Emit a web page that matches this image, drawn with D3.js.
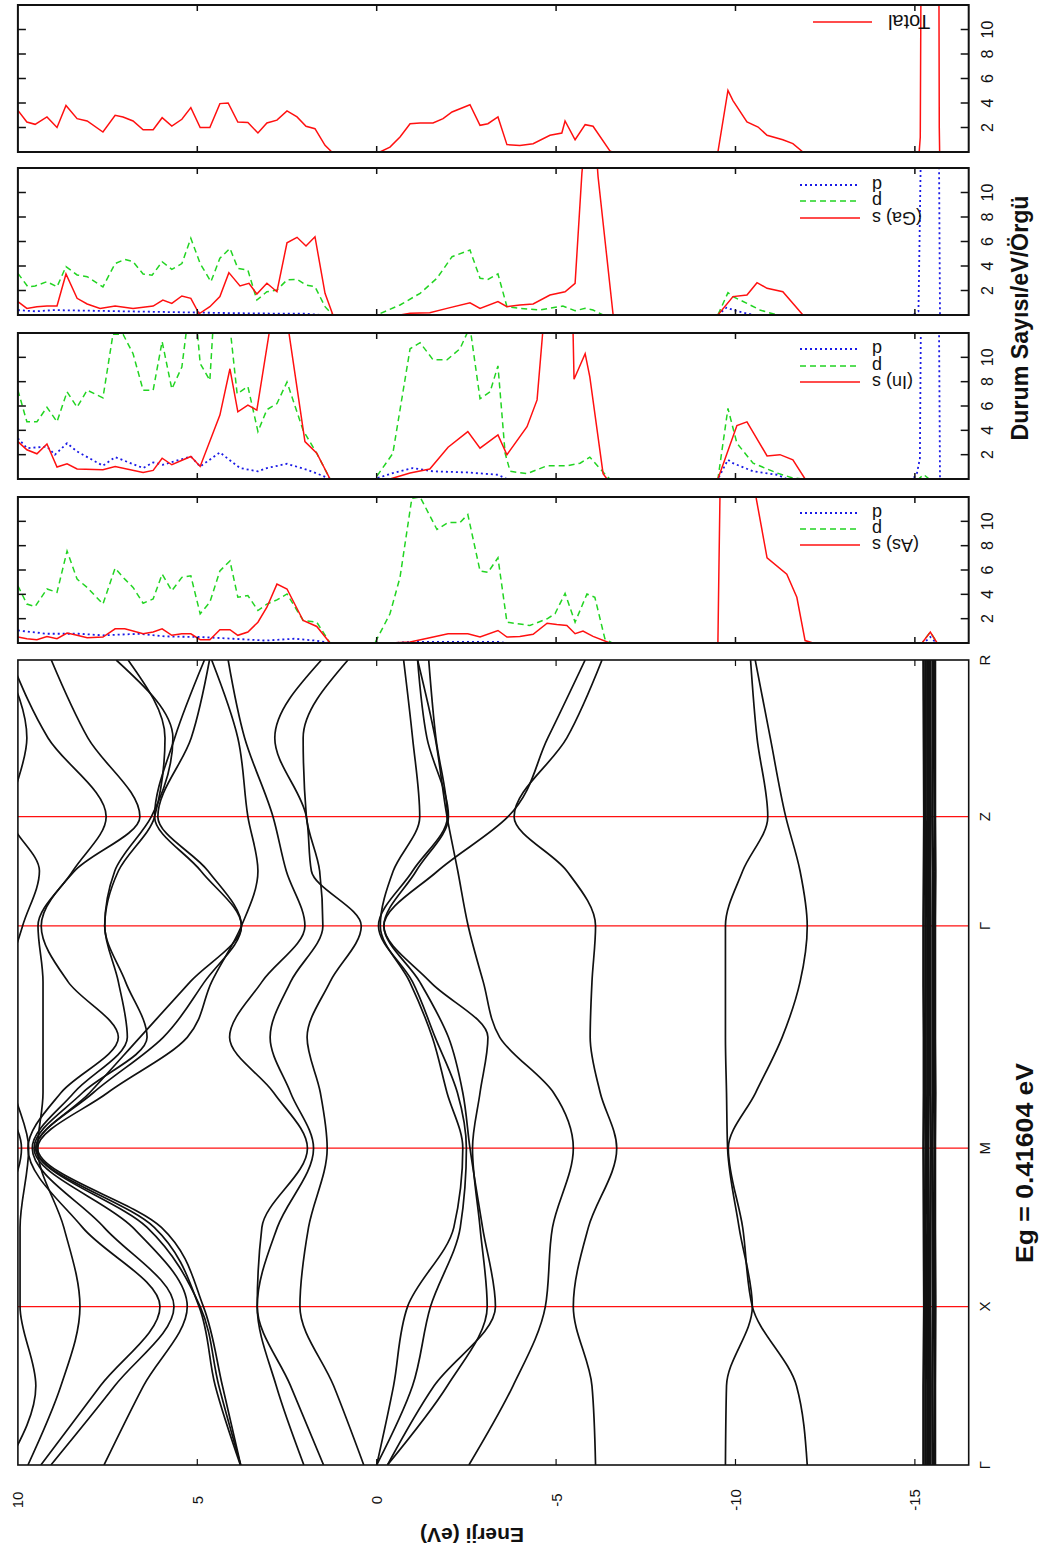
<!DOCTYPE html>
<html><head><meta charset="utf-8">
<script src="https://cdn.jsdelivr.net/npm/d3@7"></script>
<style>body{margin:0;background:#fff}svg text{font-family:"Liberation Sans",Arial,sans-serif}</style>
</head><body><svg id="c" width="1045" height="1552"></svg>
<script>
// ---------- DATA ----------
const kLabels = ["Γ","X","M","Γ","Z","R"];
const kTicks = [0, 1, 2, 3.403, 4.093, 5.082];
const kGrid = [0, 0.5, 1, 1.5, 2, 2.35, 2.7, 3.05, 3.403, 3.75, 4.093, 4.59, 5.082];
const energyTicks = [10, 5, 0, -5, -10, -15];
const dosTicks = [2, 4, 6, 8, 10];
const gapText = "Eg = 0.41604 eV";

// conduction bands (eV at kGrid)
const bandC1 = [0.36, 1.2, 2.14, 1.9, 1.38, 1.57, 1.94, 1.3, 0.43, 1.82, 1.96, 2.84, 1.54];
const bandC2 = [1.48, 2.4, 3.33, 2.77, 1.76, 2.4, 2.97, 2.4, 1.5, 1.59, 1.96, 2.05, 0.8];
const bandC3 = [2.03, 2.8, 3.33, 3.2, 1.93, 2.87, 4.1, 3.2, 2.0, 2.52, 2.89, 3.68, 4.14];
const bandC4 = [3.79, 4.3, 4.83, 6.0, 9.45, 7.5, 5.28, 4.6, 3.77, 3.31, 3.59, 3.87, 4.6];
const bandC5 = [3.79, 4.4, 4.92, 6.4, 9.5, 7.9, 5.95, 4.8, 3.77, 4.7, 6.1, 5.17, 4.66];
const bandC6 = [7.6, 6.5, 5.28, 6.8, 9.55, 8.2, 6.4, 7.0, 7.58, 7.2, 6.19, 5.9, 6.93];
const bandC7 = [9.08, 7.3, 5.65, 7.6, 9.6, 8.44, 6.95, 7.2, 7.58, 7.3, 6.28, 5.68, 7.26];
const bandC8 = [9.36, 7.7, 6.04, 8.2, 9.72, 8.8, 7.2, 8.6, 9.35, 8.42, 6.6, 8.05, 9.07];
const bandC9 = [9.72, 8.8, 8.27, 8.72, 9.45, 9.3, 9.3, 9.3, 9.44, 8.47, 7.54, 9.16, 10.2];
const bandC10 = [10.3, 9.5, 9.94, 9.94, 9.7, 10.1, 10.4, 10.3, 9.87, 9.4, 10.2, 9.75, 10.4];
const bandC11 = [10.8, 10.3, 10.6, 10.5, 9.9, 10.5, 11, 11, 11, 10.6, 10.8, 10.5, 10.9];
const bandC12 = [3.8, 4.5, 4.95, 6.2, 9.5, 8.0, 6.6, 5.2, 3.77, 4.9, 6.19, 5.63, 4.8];
// valence bands
const bandV1 = [-6.1, -6.0, -5.48, -5.9, -6.69, -6.23, -5.95, -6.0, -6.1, -5.3, -3.83, -5.3, -6.28];
const bandV2 = [-2.57, -3.8, -4.7, -4.9, -5.48, -4.93, -3.43, -2.97, -2.55, -2.26, -1.96, -1.63, -1.14];
const bandV3 = [0.0, -0.47, -0.86, -2.15, -2.4, -1.96, -1.55, -0.92, -0.1, -0.46, -1.2, -1.0, -0.75];
const bandV4 = [-0.3, -1.97, -3.08, -2.88, -2.67, -2.88, -3.1, -1.49, -0.2, -1.7, -3.66, -4.77, -5.81];
const bandV5 = [0.0, -1.0, -1.5, -2.33, -2.5, -2.25, -1.63, -1.0, -0.05, -1.0, -1.97, -1.65, -1.45];
const bandV6 = [-0.3, -1.6, -3.31, -2.95, -2.6, -2.4, -2.0, -1.2, -0.2, -1.1, -2.0, -1.4, -1.14];
// low-lying s bands
const bandL1 = [-9.72, -9.75, -10.47, -10.1, -9.78, -9.75, -9.72, -9.72, -9.72, -10.2, -10.9, -10.6, -10.42];
const bandL2 = [-12.0, -11.7, -10.47, -10.2, -9.8, -10.56, -11.3, -11.8, -12.0, -11.8, -11.4, -10.97, -10.55];
// semicore d bands
const bandS1 = [-15.24, -15.24, -15.26, -15.25, -15.24, -15.25, -15.25, -15.24, -15.24, -15.25, -15.26, -15.25, -15.24];
const bandS2 = [-15.30, -15.30, -15.31, -15.30, -15.31, -15.30, -15.30, -15.30, -15.30, -15.31, -15.30, -15.30, -15.30];
const bandS3 = [-15.36, -15.37, -15.36, -15.37, -15.36, -15.36, -15.37, -15.36, -15.36, -15.36, -15.37, -15.36, -15.36];
const bandS4 = [-15.43, -15.43, -15.42, -15.43, -15.44, -15.43, -15.43, -15.43, -15.43, -15.42, -15.43, -15.43, -15.43];
const bandS5 = [-15.50, -15.49, -15.50, -15.50, -15.49, -15.50, -15.50, -15.50, -15.50, -15.50, -15.49, -15.50, -15.50];
const bandS6 = [-15.56, -15.56, -15.57, -15.56, -15.56, -15.57, -15.56, -15.56, -15.56, -15.57, -15.56, -15.56, -15.56];

// DOS curves: [energy eV, states/eV/cell]
const dosTotal = [[10.0,3.4],[9.75,2.45],[9.52,2.26],[9.19,2.86],[8.91,2.0],[8.66,3.8],[8.35,2.72],[8.07,2.53],[7.63,1.63],[7.29,3.0],[7.07,2.86],[6.79,2.53],[6.51,1.82],[6.23,1.82],[5.98,2.8],[5.71,2.12],[5.43,2.67],[5.18,3.62],[4.92,2.0],[4.65,2.0],[4.37,3.95],[4.14,4.0],[3.87,2.45],[3.59,2.4],[3.31,1.55],[3.06,2.37],[2.78,2.6],[2.50,3.35],[2.22,2.86],[1.97,2.1],[1.72,1.9],[1.44,0.54],[1.25,0],[-0.09,0],[-0.37,0.4],[-0.65,1.22],[-0.93,2.3],[-1.21,2.37],[-1.57,2.37],[-1.85,2.72],[-2.10,3.27],[-2.60,3.86],[-2.88,2.18],[-3.10,2.31],[-3.38,2.86],[-3.63,0.6],[-3.99,0.54],[-4.36,0.68],[-4.83,1.36],[-5.16,1.55],[-5.25,2.53],[-5.53,1.0],[-5.81,2.23],[-6.03,2.1],[-6.50,0.08],[-6.56,0],[-9.51,0],[-9.79,5.03],[-9.93,4.2],[-10.32,2.45],[-10.63,2.04],[-10.88,1.36],[-11.32,1.0],[-11.60,0.68],[-11.88,0],[-15.12,0],[-15.15,1.2],[-15.17,14],[-15.67,14],[-15.68,2.0],[-15.69,0],[-16.5,0]];

const dosGaS = [[10.0,1.09],[9.75,0.54],[9.47,0.68],[9.19,0.73],[8.91,0.73],[8.66,3.35],[8.35,1.36],[8.07,0.9],[7.71,0.54],[7.29,0.73],[6.79,0.54],[6.23,0.73],[5.96,1.22],[5.71,0.95],[5.43,1.55],[5.18,1.36],[4.95,0.1],[4.65,0.68],[4.37,1.5],[4.12,3.46],[3.81,2.37],[3.56,2.59],[3.34,1.71],[3.06,2.59],[2.78,1.9],[2.50,5.9],[2.22,6.34],[1.97,5.63],[1.72,6.39],[1.44,1.77],[1.22,0],[-0.65,0],[-0.93,0.14],[-1.48,0.19],[-1.96,0.54],[-2.60,1.0],[-2.88,0.54],[-3.38,1.09],[-3.63,0.68],[-3.99,0.82],[-4.36,0.9],[-4.83,1.63],[-5.25,1.9],[-5.53,2.59],[-5.72,11.6],[-5.75,12.5],[-6.14,12.5],[-6.17,11.3],[-6.59,0],[-9.51,0],[-9.93,1.5],[-10.32,1.63],[-10.60,2.64],[-10.88,2.18],[-11.32,1.9],[-11.88,0],[-16.5,0]];
const dosGaP = [[10.0,3.4],[9.72,2.3],[9.52,2.37],[9.19,2.72],[8.91,2.3],[8.66,3.95],[8.35,3.27],[8.07,3.13],[7.63,2.3],[7.29,4.2],[7.02,4.54],[6.79,4.35],[6.51,3.35],[6.26,3.24],[5.98,4.35],[5.71,3.73],[5.43,4.2],[5.18,6.26],[4.92,4.2],[4.62,2.72],[4.37,4.63],[4.09,5.44],[3.87,3.81],[3.59,3.67],[3.34,1.22],[3.06,1.9],[2.78,2.04],[2.50,2.86],[2.22,2.91],[1.97,2.45],[1.72,2.31],[1.44,0.68],[1.22,0],[0.0,0],[-0.65,0.82],[-1.21,1.77],[-1.68,3.0],[-2.10,4.76],[-2.60,5.3],[-2.88,3.0],[-3.10,2.91],[-3.38,3.35],[-3.63,0.68],[-3.99,0.54],[-4.55,0.41],[-5.19,0.73],[-5.53,0.35],[-5.81,0.54],[-6.03,0.41],[-6.31,0],[-9.51,0],[-9.79,1.82],[-9.93,1.5],[-10.32,0.95],[-10.68,0.41],[-11.16,0],[-16.5,0]];
const dosGaD = [[10.0,0.4],[9.5,0.3],[9.0,0.4],[8.0,0.35],[7.0,0.3],[6.0,0.25],[5.0,0.2],[4.0,0.15],[3.0,0.12],[2.0,0.1],[1.5,0],[-9.51,0],[-9.75,0.6],[-10.0,0.35],[-10.5,0],[-14.95,0],[-15.1,0.3],[-15.17,14],[-15.67,14],[-15.7,0],[-16.5,0]];

const dosInS = [[10.0,3.07],[9.75,2.4],[9.47,2.07],[9.19,2.88],[8.91,0.98],[8.63,1.25],[8.35,0.82],[7.63,0.76],[7.29,1.03],[6.51,0.54],[6.23,0.71],[5.98,1.71],[5.71,1.17],[5.18,1.85],[4.92,1.03],[4.37,5.25],[4.09,9.06],[3.87,5.52],[3.59,6.07],[3.34,5.66],[2.97,12.5],[2.47,12.5],[2.0,3.07],[1.67,2.12],[1.30,0],[-0.37,0],[-0.93,0.49],[-1.48,0.82],[-1.99,2.61],[-2.54,3.9],[-2.88,2.53],[-3.38,3.62],[-3.63,1.99],[-4.19,4.3],[-4.47,6.5],[-4.64,12.5],[-5.47,12.5],[-5.50,8.2],[-5.81,10.3],[-5.94,8.4],[-6.31,0.44],[-6.42,0],[-9.51,0],[-10.04,4.4],[-10.32,4.7],[-10.88,1.9],[-11.24,2.0],[-11.60,1.58],[-11.94,0],[-16.5,0]];
const dosInP = [[10.0,7.3],[9.75,4.7],[9.47,4.7],[9.19,5.9],[8.91,4.7],[8.63,7.16],[8.35,5.9],[8.07,7.3],[7.63,6.67],[7.35,11.9],[7.07,11.9],[6.79,10.3],[6.51,7.3],[6.23,7.3],[5.98,11.3],[5.71,7.4],[5.43,9.2],[5.29,12.5],[5.01,12.5],[4.92,9.5],[4.65,8.1],[4.56,12.5],[4.09,12.5],[3.89,7.0],[3.59,7.6],[3.31,3.9],[3.06,5.7],[2.78,6.2],[2.50,7.97],[2.05,4.0],[1.67,2.1],[1.30,0],[0.05,0],[-0.45,2.1],[-0.93,10.7],[-1.21,11.2],[-1.57,9.8],[-1.96,9.8],[-2.32,10.7],[-2.60,12.5],[-2.88,6.6],[-3.16,7.16],[-3.38,9.3],[-3.58,2.1],[-3.72,0.63],[-4.19,0.44],[-4.75,1.09],[-5.30,1.09],[-5.67,1.3],[-5.94,1.8],[-6.17,1.03],[-6.42,0.22],[-6.50,0],[-9.51,0],[-9.79,5.8],[-10.04,2.94],[-10.49,1.3],[-11.16,0.49],[-11.60,0.08],[-11.9,0],[-15.1,0],[-15.25,0.35],[-15.4,0],[-16.5,0]];
const dosInD = [[10.0,3.35],[9.75,2.53],[9.19,2.67],[8.97,1.99],[8.63,2.94],[8.35,2.26],[7.63,1.09],[7.29,1.8],[6.51,0.9],[6.23,1.36],[5.96,1.17],[5.18,1.85],[4.92,1.03],[4.37,2.18],[3.81,0.9],[3.31,0.63],[3.06,0.9],[2.50,1.25],[1.94,0.76],[1.58,0.35],[1.30,0],[0.05,0],[-0.45,0.49],[-1.01,0.9],[-1.57,0.63],[-2.52,0.54],[-3.38,0.35],[-3.63,0],[-9.51,0],[-9.79,1.58],[-9.93,1.3],[-10.49,0.63],[-11.16,0.35],[-11.43,0],[-14.95,0],[-15.06,0.5],[-15.14,1.7],[-15.17,14],[-15.67,14],[-15.7,0],[-16.5,0]];

const dosAsS = [[10.0,0.49],[9.75,0.35],[9.47,0.27],[9.19,0.54],[8.91,0.35],[8.63,0.82],[8.35,0.63],[8.07,0.44],[7.63,0.49],[7.29,1.17],[7.02,1.17],[6.51,0.76],[6.23,0.9],[5.98,1.17],[5.71,0.63],[5.43,0.76],[5.18,0.76],[4.92,0.27],[4.65,0.27],[4.37,1.09],[4.09,1.09],[3.87,0.63],[3.59,0.9],[3.31,1.71],[3.06,2.94],[2.78,4.84],[2.50,4.44],[2.05,1.85],[1.67,1.36],[1.30,0],[-0.37,0],[-0.93,0.08],[-1.48,0.44],[-1.99,0.76],[-2.54,0.76],[-2.88,0.49],[-3.38,1.03],[-3.63,0.49],[-3.99,0.54],[-4.36,0.71],[-4.75,1.63],[-5.02,1.52],[-5.30,1.44],[-5.53,0.76],[-5.75,0.98],[-6.03,0.54],[-6.50,0],[-9.51,0],[-9.54,6.48],[-9.57,12.5],[-10.54,12.5],[-10.88,7.0],[-11.43,5.66],[-11.71,3.76],[-11.94,0.2],[-12.16,0],[-15.2,0],[-15.43,0.9],[-15.62,0],[-16.5,0]];
const dosAsP = [[10.0,4.7],[9.75,3.2],[9.52,3.0],[9.19,4.44],[8.91,4.16],[8.63,7.56],[8.35,5.25],[8.07,4.57],[7.63,3.2],[7.29,6.15],[7.02,5.25],[6.79,4.57],[6.51,3.27],[6.23,3.62],[5.98,5.66],[5.71,4.3],[5.43,5.39],[5.18,5.52],[4.92,2.4],[4.65,3.35],[4.37,5.93],[4.09,6.75],[3.87,3.76],[3.59,3.9],[3.31,2.67],[3.06,3.2],[2.78,3.54],[2.50,4.03],[2.05,1.85],[1.67,1.71],[1.30,0],[0.05,0],[-0.37,2.4],[-0.65,5.39],[-0.98,11.9],[-1.21,12.0],[-1.68,9.33],[-1.99,9.9],[-2.32,9.9],[-2.54,10.56],[-2.88,5.93],[-3.10,5.8],[-3.38,7.0],[-3.63,1.71],[-4.27,1.44],[-4.75,1.99],[-4.97,2.4],[-5.25,4.08],[-5.53,1.71],[-5.86,4.03],[-6.08,3.76],[-6.36,0.35],[-6.56,0],[-15.2,0],[-15.43,0.9],[-15.62,0],[-16.5,0]];
const dosAsD = [[10.0,1.03],[9.2,0.76],[8.3,0.76],[7.63,0.63],[6.6,0.76],[5.9,0.54],[4.9,0.49],[4.0,0.35],[3.1,0.2],[2.3,0.35],[1.7,0.2],[1.3,0],[-0.5,0],[-1.0,0.1],[-2.5,0.1],[-3.4,0.1],[-3.6,0],[-15.25,0],[-15.43,0.5],[-15.6,0],[-16.5,0]];

// ---------- DRAW ----------
const svg = d3.select("#c");
const RED = "#ff1010", GREEN = "#22d422", BLUE = "#1a1ae6";
const xE = d3.scaleLinear().domain([10, -16.5]).range([17.9, 968.7]);
const yK = d3.scaleLinear().domain([0, 5.082]).range([1465, 660]);

const defs = svg.append("defs");
function clip(id, x, y, w, h) {
  defs.append("clipPath").attr("id", id).append("rect").attr("x", x).attr("y", y).attr("width", w).attr("height", h);
}

// ---- Band structure ----
const bx0 = xE(10), bx1 = xE(-16.5), by0 = yK(5.082), by1 = yK(0);
clip("bandclip", bx0, by0, bx1 - bx0, by1 - by0);
const bandG = svg.append("g").attr("clip-path", "url(#bandclip)");

bandG.selectAll("line.sym").data(kTicks.slice(1, 5)).join("line")
  .attr("x1", bx0).attr("x2", bx1).attr("y1", d => yK(d)).attr("y2", d => yK(d))
  .attr("stroke", RED).attr("stroke-width", 1.3);

const mainBands = [bandC1, bandC2, bandC3, bandC4, bandC5, bandC6, bandC7, bandC8, bandC9, bandC10, bandC11, bandC12,
  bandV1, bandV2, bandV3, bandV4, bandV5, bandV6, bandL1, bandL2];
const coreBands = [bandS1, bandS2, bandS3, bandS4, bandS5, bandS6];
const bandLine = d3.line().x(d => xE(d[1])).y(d => yK(d[0])).curve(d3.curveMonotoneY);
bandG.selectAll("path.band").data(mainBands).join("path")
  .attr("d", b => bandLine(b.map((e, i) => [kGrid[i], e])))
  .attr("fill", "none").attr("stroke", "#111").attr("stroke-width", 1.7);
bandG.selectAll("path.core").data(coreBands).join("path")
  .attr("d", b => bandLine(b.map((e, i) => [kGrid[i], e])))
  .attr("fill", "none").attr("stroke", "#111").attr("stroke-width", 2.6);

svg.append("rect").attr("x", bx0).attr("y", by0).attr("width", bx1 - bx0).attr("height", by1 - by0)
  .attr("fill", "none").attr("stroke", "#111").attr("stroke-width", 1.6);
energyTicks.slice(1).forEach(v => {
  svg.append("line").attr("x1", xE(v)).attr("x2", xE(v)).attr("y1", by0).attr("y2", by0 + 6).attr("stroke", "#111").attr("stroke-width", 1.2);
  svg.append("line").attr("x1", xE(v)).attr("x2", xE(v)).attr("y1", by1).attr("y2", by1 - 6).attr("stroke", "#111").attr("stroke-width", 1.2);
});
energyTicks.forEach(v => {
  svg.append("text").attr("transform", `translate(${xE(v)},1500) rotate(-90)`)
    .attr("text-anchor", "middle").attr("dominant-baseline", "central")
    .attr("font-size", 15).attr("fill", "#111").text(v);
});
svg.append("text").attr("transform", `translate(472,1535) rotate(180)`)
  .attr("text-anchor", "middle").attr("dominant-baseline", "central")
  .attr("font-size", 21).attr("font-weight", "bold").attr("fill", "#111").text("Enerji (eV)");
kTicks.forEach((k, i) => {
  svg.append("text").attr("transform", `translate(984,${yK(k)}) rotate(-90)`)
    .attr("text-anchor", "middle").attr("dominant-baseline", "central")
    .attr("font-size", 15).attr("fill", "#111").text(kLabels[i]);
});
svg.append("text").attr("transform", `translate(1024,1163) rotate(-90)`)
  .attr("text-anchor", "middle").attr("dominant-baseline", "central")
  .attr("font-size", 24).attr("font-weight", "bold").attr("fill", "#111")
  .attr("textLength", 200).attr("lengthAdjust", "spacingAndGlyphs").text(gapText);

// ---- DOS panels ----
const panels = [
  {id: "tot", top: 5, bottom: 152, curves: [{d: dosTotal, c: RED, dash: null}],
   legend: [{t: "Total", c: RED, dash: null, off: 17}], lx: [813, 872], tx: 888},
  {id: "ga", top: 168, bottom: 315,
   curves: [{d: dosGaD, c: BLUE, dash: "2,3"}, {d: dosGaP, c: GREEN, dash: "6,4"}, {d: dosGaS, c: RED, dash: null}],
   legend: [{t: "d", c: BLUE, dash: "2,3", off: 17}, {t: "p", c: GREEN, dash: "6,4", off: 33}, {t: "(Ga) s", c: RED, dash: null, off: 50}], lx: [800, 860], tx: 872},
  {id: "in", top: 333, bottom: 479,
   curves: [{d: dosInD, c: BLUE, dash: "2,3"}, {d: dosInP, c: GREEN, dash: "6,4"}, {d: dosInS, c: RED, dash: null}],
   legend: [{t: "d", c: BLUE, dash: "2,3", off: 16}, {t: "p", c: GREEN, dash: "6,4", off: 33}, {t: "(In) s", c: RED, dash: null, off: 49}], lx: [800, 860], tx: 872},
  {id: "as", top: 497, bottom: 643,
   curves: [{d: dosAsD, c: BLUE, dash: "2,3"}, {d: dosAsP, c: GREEN, dash: "6,4"}, {d: dosAsS, c: RED, dash: null}],
   legend: [{t: "d", c: BLUE, dash: "2,3", off: 16}, {t: "p", c: GREEN, dash: "6,4", off: 32}, {t: "(As) s", c: RED, dash: null, off: 48}], lx: [800, 860], tx: 872}
];

panels.forEach(p => {
  const yD = d3.scaleLinear().domain([0, 12]).range([p.bottom, p.top]);
  clip("clip_" + p.id, bx0, p.top, bx1 - bx0, p.bottom - p.top);
  const g = svg.append("g").attr("clip-path", `url(#clip_${p.id})`);
  const ln = d3.line().x(d => xE(d[0])).y(d => yD(d[1]));
  p.curves.forEach(c => {
    g.append("path").attr("d", ln(c.d)).attr("fill", "none").attr("stroke", c.c)
      .attr("stroke-width", c.dash === "2,3" ? 1.8 : 1.5).attr("stroke-dasharray", c.dash);
  });
  svg.append("rect").attr("x", bx0).attr("y", p.top).attr("width", bx1 - bx0).attr("height", p.bottom - p.top)
    .attr("fill", "none").attr("stroke", "#111").attr("stroke-width", 2);
  energyTicks.slice(1).forEach(v => {
    svg.append("line").attr("x1", xE(v)).attr("x2", xE(v)).attr("y1", p.top).attr("y2", p.top + 6).attr("stroke", "#111").attr("stroke-width", 1.5);
    svg.append("line").attr("x1", xE(v)).attr("x2", xE(v)).attr("y1", p.bottom).attr("y2", p.bottom - 6).attr("stroke", "#111").attr("stroke-width", 1.5);
  });
  dosTicks.forEach(v => {
    svg.append("line").attr("x1", bx0).attr("x2", bx0 + 8).attr("y1", yD(v)).attr("y2", yD(v)).attr("stroke", "#111").attr("stroke-width", 1.5);
    svg.append("line").attr("x1", bx1).attr("x2", bx1 - 8).attr("y1", yD(v)).attr("y2", yD(v)).attr("stroke", "#111").attr("stroke-width", 1.5);
    svg.append("text").attr("transform", `translate(987,${yD(v)}) rotate(-90)`)
      .attr("text-anchor", "middle").attr("dominant-baseline", "central")
      .attr("font-size", 16).attr("fill", "#111").text(v);
  });
  p.legend.forEach(l => {
    const y = p.top + l.off;
    svg.append("line").attr("x1", p.lx[0]).attr("x2", p.lx[1]).attr("y1", y).attr("y2", y)
      .attr("stroke", l.c).attr("stroke-width", l.dash === "2,3" ? 1.8 : 1.5).attr("stroke-dasharray", l.dash);
    svg.append("text").attr("transform", `translate(${p.tx},${y}) rotate(180)`)
      .attr("text-anchor", "end").attr("dominant-baseline", "central")
      .attr("font-size", l.t === "Total" ? 20 : 18).attr("fill", "#111").text(l.t);
  });
});

svg.append("text").attr("transform", `translate(1020,318) rotate(-90)`)
  .attr("text-anchor", "middle").attr("dominant-baseline", "central")
  .attr("font-size", 23).attr("font-weight", "bold").attr("fill", "#111")
  .attr("textLength", 245).attr("lengthAdjust", "spacingAndGlyphs").text("Durum Sayısı/eV/Örgü");
</script></body></html>
